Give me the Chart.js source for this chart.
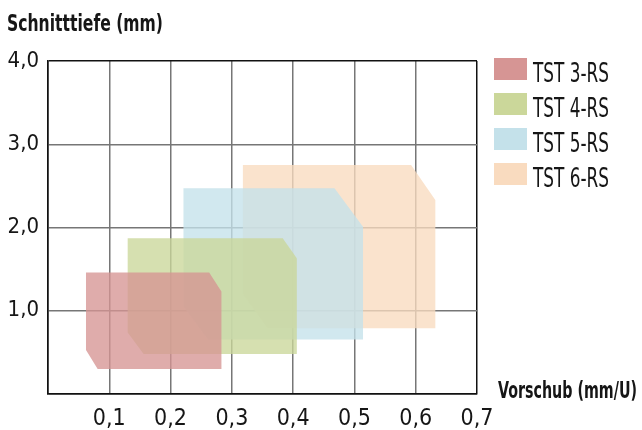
<!DOCTYPE html>
<html>
<head>
<meta charset="utf-8">
<script src="https://cdn.jsdelivr.net/npm/chart.js@4/dist/chart.umd.min.js"></script>
<style>
  html, body { margin: 0; padding: 0; background: #ffffff; }
  #wrap { position: relative; width: 642px; height: 430px; overflow: hidden; }
  #c { position: absolute; left: 0; top: 0; }
  .txt { position: absolute; white-space: nowrap; line-height: 1; color: #161616;
         font-family: "DejaVu Sans Condensed", "Liberation Sans Narrow", "DejaVu Sans", sans-serif;
         transform-origin: 0 0; }
  .bold { font-weight: bold; }
  .sw { position: absolute; }
</style>
</head>
<body>
<div id="wrap">
  <canvas id="c" width="642" height="430"></canvas>
</div>
<script>
// ---- data ----
const seriesNames = ['TST 3-RS', 'TST 4-RS', 'TST 5-RS', 'TST 6-RS'];
// polygon outlines: feed (mm/U) on x, depth of cut (mm) on y
const tst3X = [0.062, 0.263, 0.283, 0.283, 0.081, 0.062];
const tst3Y = [1.46, 1.46, 1.23, 0.30, 0.30, 0.53];
const tst4X = [0.130, 0.383, 0.406, 0.406, 0.156, 0.130];
const tst4Y = [1.87, 1.87, 1.63, 0.48, 0.48, 0.74];
const tst5X = [0.221, 0.4675, 0.514, 0.514, 0.261, 0.221];
const tst5Y = [2.47, 2.47, 2.01, 0.655, 0.655, 1.05];
const tst6X = [0.318, 0.5925, 0.632, 0.632, 0.358, 0.318];
const tst6Y = [2.75, 2.75, 2.33, 0.79, 0.79, 1.20];
const xTickLabels = ['', '0,1', '0,2', '0,3', '0,4', '0,5', '0,6', '0,7'];
const yTickLabels = ['', '1,0', '2,0', '3,0', '4,0'];
const yTitle = 'Schnitttiefe (mm)';
const xTitle = 'Vorschub (mm/U)';

// ---- styles ----
const solidColors = ['#d69594', '#cbd79a', '#c4e1ea', '#f9dbbf'];
const fillAlpha = 0.78;

function rgba(hex, a) {
  const n = parseInt(hex.slice(1), 16);
  return 'rgba(' + ((n >> 16) & 255) + ',' + ((n >> 8) & 255) + ',' + (n & 255) + ',' + a + ')';
}
function pts(xs, ys) { return xs.map((x, i) => ({ x: x, y: ys[i] })); }

const seriesX = [tst3X, tst4X, tst5X, tst6X];
const seriesY = [tst3Y, tst4Y, tst5Y, tst6Y];

const datasets = seriesNames.map((name, i) => ({
  label: name,
  data: pts(seriesX[i], seriesY[i]),
  showLine: true,
  fill: 'shape',
  backgroundColor: rgba(solidColors[i], fillAlpha),
  borderWidth: 0,
  borderColor: 'rgba(0,0,0,0)',
  pointRadius: 0,
  pointHoverRadius: 0,
  tension: 0
}));

const fam = '"DejaVu Sans Condensed", "Liberation Sans Narrow", "DejaVu Sans", sans-serif';

new Chart(document.getElementById('c'), {
  type: 'scatter',
  data: { datasets: datasets },
  options: {
    responsive: false,
    animation: false,
    events: [],
    layout: { padding: { left: 0, top: 61, right: 165, bottom: 0 } },
    plugins: { legend: { display: false }, tooltip: { enabled: false }, title: { display: false } },
    scales: {
      x: {
        type: 'linear', min: 0, max: 0.7,
        afterFit: s => { s.height = 36; },
        ticks: {
          stepSize: 0.1, padding: 11, color: '#161616',
          font: { family: fam, size: 23 },
          maxRotation: 0, autoSkip: false,
          callback: (v, i) => xTickLabels[i]
        },
        grid: {
          drawTicks: false, lineWidth: 1.5,
          color: ctx => (ctx.index === 0 || ctx.index === xTickLabels.length - 1) ? '#111' : '#767676'
        },
        border: { display: true, color: '#111', width: 1.5 }
      },
      y: {
        type: 'linear', min: 0, max: 4,
        afterFit: s => { s.width = 48; },
        ticks: {
          stepSize: 1, padding: 9, color: '#161616', font: { family: fam, size: 22 },
          autoSkip: false,
          callback: (v, i) => yTickLabels[i]
        },
        grid: {
          drawTicks: false, lineWidth: 1.5,
          color: ctx => (ctx.index === 0 || ctx.index === yTickLabels.length - 1) ? '#111' : '#767676'
        },
        border: { display: true, color: '#111', width: 1.5 }
      }
    }
  }
});

// ---- text overlays: axis titles and legend ----
const wrap = document.getElementById('wrap');
function addText(str, left, top, size, bold, targetWidth) {
  const d = document.createElement('div');
  d.className = 'txt' + (bold ? ' bold' : '');
  d.textContent = str;
  d.style.left = left + 'px';
  d.style.top = top + 'px';
  d.style.fontSize = size + 'px';
  wrap.appendChild(d);
  const w = d.getBoundingClientRect().width;
  if (targetWidth && w > 0) d.style.transform = 'scaleX(' + (targetWidth / w) + ')';
  return d;
}
addText(yTitle, 7, 12, 23, true, 156);
addText(xTitle, 498, 379, 23, true, 139);

seriesNames.forEach((name, i) => {
  const sw = document.createElement('div');
  sw.className = 'sw';
  sw.style.left = '494px';
  sw.style.top = (58 + i * 35) + 'px';
  sw.style.width = '33px';
  sw.style.height = '22px';
  sw.style.background = solidColors[i];
  wrap.appendChild(sw);
  addText(name, 533, 58.5 + i * 35, 27, false, 76);
});
</script>
</body>
</html>
